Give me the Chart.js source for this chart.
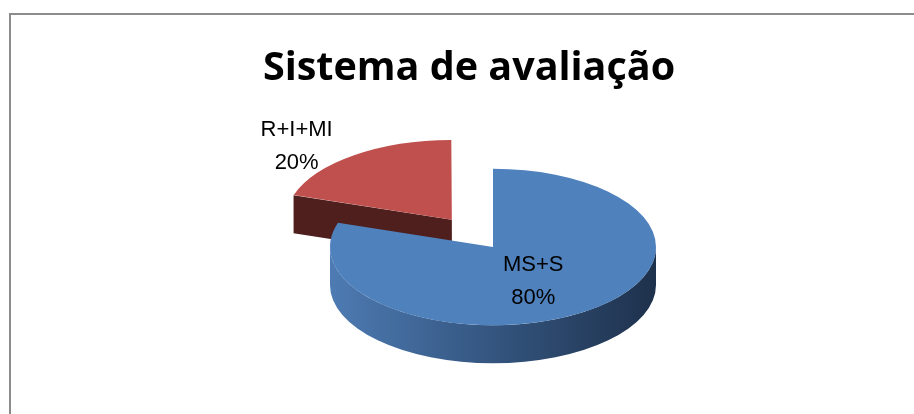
<!DOCTYPE html>
<html>
<head>
<meta charset="utf-8">
<script src="https://cdn.jsdelivr.net/npm/chart.js@4"></script>
<style>
  body { margin: 0; background: #fff; overflow: hidden; }
  #wrap { position: relative; width: 914px; height: 414px; }
  #frame {
    position: absolute; left: 9px; top: 13px; width: 920px; height: 420px;
    border-left: 2px solid #8c8c8c; border-top: 2px solid #8c8c8c;
  }
  #chart { position: absolute; left: 0; top: 0; }
</style>
</head>
<body>
<div id="wrap">
  <div id="frame"></div>
  <canvas id="chart" width="914" height="414"></canvas>
</div>
<script>
const sliceLabels = ['MS+S', 'R+I+MI'];
const sliceValues = [80, 20];

const topColors = ['#4f81bd', '#c0504d'];
const sideColors = [['#4d7bb3', '#34557f', '#1e314c'], ['#8a3533', '#5a2322', '#4a1c1b']];
const faceColors = ['#2a4468', '#4f1f1e'];

// where the label block sits, as fractions of the radius along the slice middle (x, y)
const labelPlace = [[0.42, 0.52], [1.62, 1.19]];

const total = sliceValues.reduce((a, b) => a + b, 0);

// fake 3D: squash the flat pie and draw the walls under it
const pie3d = {
    id: 'pie3d',
    beforeDatasetsDraw(chart, args, opts) {
        const ctx = chart.ctx;
        const arcs = chart.getDatasetMeta(0).data;
        const cx = arcs[0].x, cy = arcs[0].y;
        const k = opts.tilt, D = opts.depth;

        arcs.forEach((arc, i) => {
            const {startAngle: a0, endAngle: a1, outerRadius} = arc;
            const off = (arc.options.offset || 0) / 4;
            const mid = (a0 + a1) / 2;
            const r = outerRadius + off * (1 - Math.sin(Math.min(Math.PI, a1 - a0)));
            const sx = opts.x + Math.cos(mid) * off;
            const sy = opts.y + Math.sin(mid) * off * k;

            // radial walls facing the viewer
            const walls = [];
            if (Math.cos(a0) < -0.01) walls.push(a0);
            if (Math.cos(a1) > 0.01) walls.push(a1);
            walls.forEach(a => {
                const px = sx + r * Math.cos(a), py = sy + r * k * Math.sin(a);
                ctx.beginPath();
                ctx.moveTo(sx, sy);
                ctx.lineTo(px, py);
                ctx.lineTo(px, py + D);
                ctx.lineTo(sx, sy + D);
                ctx.closePath();
                ctx.fillStyle = faceColors[i];
                ctx.fill();
            });

            // curved outer wall, only the front half is visible
            for (let n = -1; n <= 1; n++) {
                const lo = Math.max(a0, 2 * Math.PI * n);
                const hi = Math.min(a1, Math.PI + 2 * Math.PI * n);
                if (lo >= hi) continue;
                const g = ctx.createLinearGradient(sx - r, 0, sx + r, 0);
                g.addColorStop(0, sideColors[i][0]);
                g.addColorStop(0.5, sideColors[i][1]);
                g.addColorStop(1, sideColors[i][2]);
                ctx.beginPath();
                ctx.ellipse(sx, sy, r, r * k, 0, lo, hi);
                ctx.ellipse(sx, sy + D, r, r * k, 0, hi, lo, true);
                ctx.closePath();
                ctx.fillStyle = g;
                ctx.fill();
            }
        });

        ctx.save();
        ctx.translate(opts.x, opts.y);
        ctx.scale(1, k);
        ctx.translate(-cx, -cy);
    },
    afterDatasetsDraw(chart, args, opts) {
        const ctx = chart.ctx;
        ctx.restore();
        const arcs = chart.getDatasetMeta(0).data;
        const k = opts.tilt;

        ctx.save();
        ctx.fillStyle = '#000';
        ctx.font = opts.labelFont;
        ctx.textAlign = 'center';
        ctx.textBaseline = 'alphabetic';
        arcs.forEach((arc, i) => {
            const off = (arc.options.offset || 0) / 4;
            const mid = (arc.startAngle + arc.endAngle) / 2;
            const r = arc.outerRadius;
            const lx = opts.x + Math.cos(mid) * (off + r * labelPlace[i][0]);
            const ly = opts.y + Math.sin(mid) * (off + r * labelPlace[i][1]) * k;
            const pct = Math.round(sliceValues[i] / total * 100) + '%';
            ctx.fillText(sliceLabels[i], lx, ly - 8.5);
            ctx.fillText(pct, lx, ly + 24.5);
        });
        ctx.restore();
    }
};

const ctx = document.getElementById('chart').getContext('2d');
new Chart(ctx, {
    type: 'pie',
    data: {
        labels: sliceLabels,
        datasets: [{
            data: sliceValues,
            backgroundColor: topColors,
            borderWidth: 0,
            offset: [0, 280],
            radius: 163,
            cutout: '0%',
            clip: false
        }]
    },
    options: {
        responsive: false,
        animation: false,
        devicePixelRatio: 1,
        layout: { padding: { left: 24 } },
        plugins: {
            legend: { display: false },
            tooltip: { enabled: false },
            title: {
                display: true,
                text: 'Sistema de avaliação',
                color: '#000',
                font: { family: 'Open Sans', size: 39.5, weight: 'bold' },
                padding: { top: 45, bottom: 10 }
            },
            pie3d: { x: 493, y: 247, tilt: 0.48, depth: 38, labelFont: '22px "Liberation Sans"' }
        }
    },
    plugins: [pie3d]
});
</script>
</body>
</html>
